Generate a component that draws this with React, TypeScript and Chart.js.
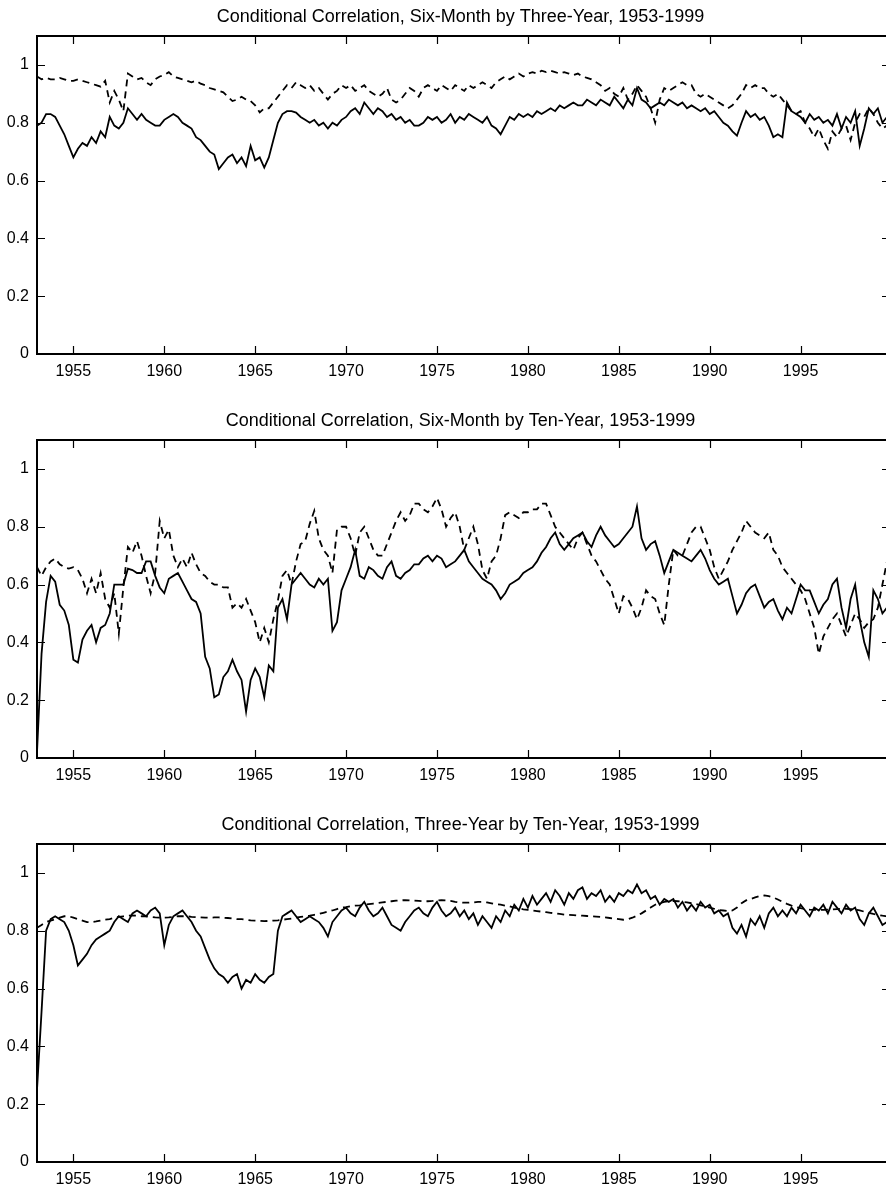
import React, { useEffect, useRef } from "react";
import { Chart, registerables } from "chart.js";

Chart.register(...registerables);

const START_YEAR = 1953;
const END_YEAR = 1999 + 11 / 12;
const X_TICKS = [1955, 1960, 1965, 1970, 1975, 1980, 1985, 1990, 1995];
const Y_TICKS = [0, 0.2, 0.4, 0.6, 0.8, 1];
const Y_MAX = 1.1;

const TITLES = [
  "Conditional Correlation, Six-Month by Three-Year, 1953-1999",
  "Conditional Correlation, Six-Month by Ten-Year, 1953-1999",
  "Conditional Correlation, Three-Year by Ten-Year, 1953-1999",
];

// Quarterly readings, 1953Q1 .. 1999Q4 (one row per year)
const sixMonthThreeYearSolid = [
  0.79, 0.8, 0.83, 0.83,
  0.82, 0.79, 0.76, 0.72,
  0.68, 0.71, 0.73, 0.72,
  0.75, 0.73, 0.77, 0.75,
  0.82, 0.79, 0.78, 0.8,
  0.85, 0.83, 0.81, 0.83,
  0.81, 0.8, 0.79, 0.79,
  0.81, 0.82, 0.83, 0.82,
  0.8, 0.79, 0.78, 0.75,
  0.74, 0.72, 0.7, 0.69,
  0.64, 0.66, 0.68, 0.69,
  0.66, 0.68, 0.65, 0.72,
  0.67, 0.68, 0.645, 0.68,
  0.74, 0.8, 0.83, 0.84,
  0.84, 0.835, 0.82, 0.81,
  0.8, 0.81, 0.79, 0.8,
  0.78, 0.8, 0.79, 0.81,
  0.82, 0.84, 0.85, 0.83,
  0.87, 0.85, 0.83, 0.85,
  0.84, 0.82, 0.83, 0.81,
  0.82, 0.8, 0.81, 0.79,
  0.79, 0.8, 0.82, 0.81,
  0.82, 0.8, 0.81, 0.83,
  0.8, 0.82, 0.81, 0.83,
  0.82, 0.81, 0.8, 0.82,
  0.79, 0.78, 0.76, 0.79,
  0.82, 0.81, 0.83, 0.82,
  0.83, 0.82, 0.84, 0.83,
  0.84, 0.85, 0.84, 0.86,
  0.85, 0.86, 0.87, 0.86,
  0.86, 0.88, 0.87, 0.86,
  0.88, 0.87, 0.86, 0.89,
  0.87, 0.85, 0.88, 0.86,
  0.92, 0.88, 0.87, 0.85,
  0.86, 0.87, 0.86, 0.88,
  0.87, 0.86, 0.87, 0.85,
  0.86, 0.85, 0.84, 0.85,
  0.83, 0.84, 0.82, 0.8,
  0.79, 0.77, 0.755, 0.8,
  0.84, 0.82, 0.83, 0.81,
  0.82, 0.79, 0.75, 0.76,
  0.75, 0.87, 0.84, 0.83,
  0.82, 0.8, 0.83, 0.81,
  0.82, 0.8, 0.81, 0.79,
  0.83, 0.78, 0.82, 0.8,
  0.84, 0.72, 0.78, 0.85,
  0.83, 0.85, 0.8, 0.82,
];

const sixMonthThreeYearDashed = [
  0.96, 0.95, 0.955, 0.95,
  0.95, 0.955, 0.95, 0.945,
  0.945, 0.95, 0.945, 0.94,
  0.935, 0.93, 0.925, 0.945,
  0.87, 0.91, 0.88, 0.84,
  0.97, 0.96, 0.95, 0.955,
  0.94, 0.93, 0.95, 0.96,
  0.965, 0.975, 0.96, 0.955,
  0.95, 0.945, 0.94, 0.945,
  0.935, 0.93, 0.92, 0.915,
  0.91, 0.905, 0.89, 0.875,
  0.88, 0.89, 0.88, 0.875,
  0.86, 0.836, 0.85, 0.85,
  0.87, 0.89, 0.91, 0.93,
  0.92, 0.94, 0.93, 0.92,
  0.93, 0.91, 0.92, 0.9,
  0.88, 0.9, 0.91, 0.93,
  0.92, 0.93, 0.91, 0.92,
  0.93, 0.91, 0.9, 0.89,
  0.9, 0.92, 0.88, 0.87,
  0.88, 0.9, 0.92, 0.91,
  0.89, 0.92, 0.93, 0.92,
  0.91, 0.93, 0.92, 0.91,
  0.93, 0.92, 0.91, 0.93,
  0.92, 0.93, 0.94, 0.93,
  0.92, 0.94, 0.95, 0.96,
  0.95, 0.96, 0.97, 0.96,
  0.97, 0.975, 0.97, 0.98,
  0.975, 0.98, 0.975, 0.97,
  0.975, 0.97, 0.965, 0.97,
  0.96, 0.955, 0.95, 0.94,
  0.93, 0.91, 0.92, 0.9,
  0.89, 0.92, 0.88, 0.9,
  0.93, 0.91, 0.89, 0.85,
  0.8, 0.88, 0.92, 0.91,
  0.92, 0.93, 0.94, 0.93,
  0.93, 0.9, 0.89, 0.9,
  0.89, 0.88, 0.87, 0.86,
  0.85, 0.86, 0.88, 0.9,
  0.93, 0.92, 0.93, 0.92,
  0.92, 0.9, 0.89, 0.9,
  0.88, 0.86, 0.84, 0.83,
  0.84, 0.8, 0.78, 0.75,
  0.78, 0.74, 0.71, 0.77,
  0.75, 0.78, 0.79, 0.74,
  0.8, 0.83, 0.82, 0.85,
  0.83, 0.8, 0.78, 0.79,
];

const sixMonthTenYearSolid = [
  0.02, 0.36, 0.54, 0.63,
  0.61, 0.53, 0.51, 0.46,
  0.34, 0.33, 0.41, 0.44,
  0.46, 0.4, 0.45, 0.46,
  0.5, 0.6, 0.6, 0.6,
  0.655, 0.65, 0.64, 0.64,
  0.68, 0.68, 0.63, 0.59,
  0.57, 0.62, 0.63, 0.64,
  0.61, 0.58, 0.55, 0.54,
  0.5, 0.35, 0.31, 0.21,
  0.22, 0.28, 0.3, 0.34,
  0.3, 0.27, 0.16, 0.27,
  0.31, 0.28, 0.21, 0.32,
  0.3, 0.52, 0.55, 0.48,
  0.6, 0.62, 0.64, 0.62,
  0.6, 0.59, 0.62, 0.6,
  0.62, 0.44, 0.47, 0.58,
  0.62, 0.66, 0.72, 0.63,
  0.62, 0.66, 0.65, 0.63,
  0.62, 0.66, 0.68, 0.63,
  0.62, 0.64, 0.65, 0.67,
  0.67, 0.69, 0.7, 0.68,
  0.7, 0.69, 0.66, 0.67,
  0.68, 0.7, 0.72, 0.68,
  0.66, 0.64, 0.62, 0.61,
  0.6, 0.58, 0.55, 0.57,
  0.6, 0.61, 0.62, 0.64,
  0.65, 0.66, 0.68, 0.71,
  0.73, 0.76, 0.78, 0.74,
  0.72, 0.74, 0.76, 0.77,
  0.78, 0.75, 0.73, 0.77,
  0.8, 0.77, 0.75, 0.73,
  0.74, 0.76, 0.78, 0.8,
  0.87, 0.76, 0.72, 0.74,
  0.75, 0.7, 0.64, 0.68,
  0.72, 0.71, 0.7, 0.69,
  0.68, 0.7, 0.72, 0.69,
  0.65, 0.62, 0.6, 0.61,
  0.62, 0.56, 0.5, 0.53,
  0.57, 0.59, 0.6, 0.56,
  0.52, 0.54, 0.55, 0.51,
  0.48, 0.52, 0.5, 0.55,
  0.6, 0.58, 0.58, 0.54,
  0.5, 0.53, 0.55, 0.6,
  0.62, 0.52, 0.45, 0.55,
  0.6, 0.48, 0.4, 0.35,
  0.58, 0.55, 0.5, 0.52,
];

const sixMonthTenYearDashed = [
  0.66, 0.63, 0.66, 0.68,
  0.69, 0.67, 0.66, 0.655,
  0.66, 0.65, 0.62, 0.57,
  0.62, 0.57, 0.64, 0.55,
  0.52, 0.57, 0.43, 0.59,
  0.73, 0.71, 0.75, 0.7,
  0.63, 0.57, 0.64, 0.82,
  0.76, 0.79, 0.7, 0.66,
  0.69, 0.66, 0.71, 0.67,
  0.64, 0.63, 0.61, 0.6,
  0.6, 0.59, 0.59, 0.52,
  0.535, 0.52, 0.55, 0.51,
  0.47, 0.4, 0.45, 0.4,
  0.48, 0.545, 0.63, 0.65,
  0.6, 0.68, 0.74, 0.75,
  0.81, 0.855, 0.76, 0.72,
  0.7, 0.64, 0.79, 0.8,
  0.8, 0.76, 0.7, 0.78,
  0.8, 0.76, 0.72, 0.7,
  0.7, 0.74, 0.78, 0.82,
  0.85, 0.82, 0.84, 0.88,
  0.88, 0.86, 0.85, 0.87,
  0.9, 0.86, 0.8, 0.83,
  0.85, 0.8, 0.72, 0.76,
  0.8, 0.74, 0.65, 0.62,
  0.68, 0.7, 0.76, 0.84,
  0.85, 0.84, 0.83, 0.85,
  0.85, 0.86, 0.86, 0.88,
  0.88, 0.84, 0.8, 0.78,
  0.76, 0.74, 0.72, 0.76,
  0.78, 0.74, 0.7, 0.68,
  0.65, 0.62, 0.6, 0.55,
  0.5, 0.56, 0.55, 0.52,
  0.48, 0.52, 0.58, 0.56,
  0.55, 0.5, 0.46, 0.6,
  0.72, 0.7, 0.7, 0.74,
  0.78, 0.8, 0.8, 0.76,
  0.72, 0.66, 0.62, 0.65,
  0.68, 0.72, 0.75, 0.78,
  0.82, 0.8, 0.78, 0.77,
  0.76, 0.78, 0.72, 0.7,
  0.66, 0.64, 0.62, 0.6,
  0.58, 0.55, 0.5, 0.45,
  0.36, 0.42, 0.45, 0.48,
  0.5, 0.46, 0.42, 0.46,
  0.5, 0.48, 0.45, 0.47,
  0.48, 0.52, 0.6, 0.68,
];

const threeYearTenYearSolid = [
  0.25, 0.52, 0.8, 0.84,
  0.85, 0.84, 0.83, 0.8,
  0.75, 0.68, 0.7, 0.72,
  0.75, 0.77, 0.78, 0.79,
  0.8, 0.83, 0.85, 0.84,
  0.83, 0.86, 0.87, 0.86,
  0.85, 0.87, 0.88, 0.86,
  0.75, 0.82, 0.85, 0.86,
  0.87, 0.85, 0.83, 0.8,
  0.78, 0.74, 0.7, 0.67,
  0.65, 0.64, 0.62, 0.64,
  0.65, 0.6, 0.63, 0.62,
  0.65, 0.63, 0.62, 0.64,
  0.65, 0.8, 0.85, 0.86,
  0.87, 0.85, 0.83, 0.84,
  0.85, 0.84, 0.83, 0.81,
  0.78, 0.83, 0.85, 0.87,
  0.88, 0.86, 0.85, 0.88,
  0.9, 0.87, 0.85, 0.86,
  0.88, 0.85, 0.82, 0.81,
  0.8, 0.83, 0.85, 0.87,
  0.88, 0.86, 0.85, 0.88,
  0.9, 0.87, 0.85, 0.86,
  0.88, 0.85, 0.87, 0.84,
  0.86, 0.82, 0.85, 0.83,
  0.81, 0.85, 0.83, 0.87,
  0.85, 0.89, 0.87, 0.91,
  0.88, 0.92, 0.89, 0.91,
  0.93, 0.9, 0.94, 0.92,
  0.89, 0.93, 0.91, 0.94,
  0.95, 0.91, 0.93, 0.92,
  0.94, 0.9, 0.92, 0.9,
  0.93, 0.92, 0.94, 0.93,
  0.96, 0.93, 0.94, 0.91,
  0.92, 0.89, 0.91, 0.9,
  0.91, 0.88, 0.9, 0.87,
  0.89, 0.87, 0.9, 0.88,
  0.89, 0.86, 0.87, 0.85,
  0.86, 0.81, 0.79, 0.82,
  0.78, 0.84, 0.82, 0.85,
  0.81, 0.86, 0.88, 0.85,
  0.87, 0.85, 0.88, 0.86,
  0.89, 0.87, 0.85, 0.88,
  0.87, 0.89, 0.86, 0.9,
  0.88, 0.86, 0.89, 0.87,
  0.88, 0.84, 0.82, 0.86,
  0.88, 0.85, 0.82, 0.83,
];

const threeYearTenYearDashed = [
  0.81, 0.82, 0.83, 0.835,
  0.84, 0.845, 0.85, 0.85,
  0.845, 0.84, 0.835, 0.83,
  0.83, 0.832, 0.835, 0.838,
  0.84, 0.845, 0.848, 0.85,
  0.852, 0.853, 0.852, 0.85,
  0.85, 0.848, 0.846, 0.845,
  0.845, 0.846, 0.848, 0.85,
  0.85, 0.85, 0.848, 0.847,
  0.846, 0.845, 0.845, 0.846,
  0.846, 0.845, 0.844, 0.842,
  0.84, 0.84, 0.838, 0.836,
  0.835, 0.834, 0.833, 0.834,
  0.835, 0.836, 0.838, 0.84,
  0.842, 0.845, 0.848, 0.85,
  0.852, 0.855, 0.858, 0.862,
  0.866, 0.87, 0.875, 0.88,
  0.882, 0.885, 0.887, 0.888,
  0.89, 0.892, 0.894, 0.896,
  0.898, 0.9, 0.902, 0.904,
  0.905, 0.906, 0.905, 0.904,
  0.903, 0.902, 0.902, 0.903,
  0.905, 0.906, 0.905, 0.903,
  0.9, 0.898, 0.897, 0.897,
  0.898, 0.9, 0.9, 0.898,
  0.895, 0.892, 0.89, 0.887,
  0.884, 0.88, 0.877, 0.874,
  0.872, 0.87, 0.868, 0.866,
  0.864, 0.862, 0.86, 0.858,
  0.856, 0.855, 0.854, 0.853,
  0.852, 0.851, 0.85, 0.849,
  0.848, 0.846, 0.844, 0.842,
  0.84, 0.838, 0.84, 0.845,
  0.852, 0.86, 0.87, 0.88,
  0.89, 0.895, 0.9, 0.902,
  0.903, 0.902, 0.9, 0.898,
  0.895, 0.892, 0.888, 0.884,
  0.88, 0.876, 0.872, 0.87,
  0.868, 0.87, 0.88, 0.895,
  0.905, 0.91, 0.915, 0.92,
  0.922, 0.92, 0.915, 0.908,
  0.9, 0.893, 0.887, 0.882,
  0.878, 0.875, 0.873, 0.872,
  0.872, 0.872, 0.873, 0.874,
  0.875, 0.876, 0.876, 0.875,
  0.873, 0.87, 0.866, 0.862,
  0.858, 0.855, 0.852, 0.85,
];

const FONT = '"Liberation Sans", Arial, Helvetica, sans-serif';
const CANVAS_W = 890;
const PLOT_TOP = 36;
const PLOT_BOTTOM = 354;
const PLOT_LEFT = 37;

type PanelProps = { solid: number[]; dashed: number[]; title: string; height: number };

function Panel({ solid, dashed, title, height }: PanelProps) {
  const ref = useRef<HTMLCanvasElement>(null);

  useEffect(() => {
    if (!ref.current) return;
    const toPoints = (arr: number[]) => arr.map((v, i) => ({ x: START_YEAR + i / 4, y: v }));

    const framePlugin = {
      id: "matlabFrame",
      afterDraw(chart: any) {
        const { ctx, chartArea: a, scales } = chart;
        const xs = scales.x;
        const ys = scales.y;
        ctx.save();
        ctx.strokeStyle = "#000";
        ctx.lineWidth = 2;
        ctx.beginPath();
        ctx.moveTo(a.left, a.top);
        ctx.lineTo(a.right, a.top);
        ctx.moveTo(a.left, a.bottom);
        ctx.lineTo(a.right, a.bottom);
        ctx.moveTo(a.left, a.top - 1);
        ctx.lineTo(a.left, a.bottom + 1);
        ctx.moveTo(a.right, a.top);
        ctx.lineTo(a.right, a.bottom);
        ctx.stroke();
        ctx.lineWidth = 1.2;
        ctx.beginPath();
        xs.ticks.forEach((t: any) => {
          const px = Math.round(xs.getPixelForValue(t.value)) + 0.5;
          ctx.moveTo(px, a.bottom);
          ctx.lineTo(px, a.bottom - 8);
          ctx.moveTo(px, a.top);
          ctx.lineTo(px, a.top + 8);
        });
        ys.ticks.forEach((t: any) => {
          const py = Math.round(ys.getPixelForValue(t.value)) + 0.5;
          ctx.moveTo(a.left, py);
          ctx.lineTo(a.left + 8, py);
          ctx.moveTo(a.right, py);
          ctx.lineTo(a.right - 8, py);
        });
        ctx.stroke();
        ctx.fillStyle = "#000";
        ctx.font = `18px ${FONT}`;
        ctx.textAlign = "center";
        ctx.textBaseline = "middle";
        ctx.fillText(title, (a.left + a.right) / 2 - 3, a.top - 19);
        ctx.restore();
      },
    };

    const chart = new Chart(ref.current, {
      type: "line",
      data: {
        datasets: [
          {
            data: toPoints(solid),
            borderColor: "#000",
            borderWidth: 1.8,
            pointRadius: 0,
            tension: 0,
            fill: false,
          },
          {
            data: toPoints(dashed),
            borderColor: "#000",
            borderWidth: 1.8,
            borderDash: [7, 5],
            pointRadius: 0,
            tension: 0,
            fill: false,
          },
        ],
      },
      options: {
        responsive: false,
        animation: false,
        devicePixelRatio: 1,
        layout: { padding: { top: PLOT_TOP, left: 0, right: 0, bottom: 0 } },
        plugins: {
          legend: { display: false },
          tooltip: { enabled: false },
          title: { display: false },
        },
        scales: {
          x: {
            type: "linear",
            min: START_YEAR,
            max: END_YEAR,
            grid: { display: false, drawTicks: false },
            border: { display: false },
            afterBuildTicks: (scale: any) => {
              scale.ticks = X_TICKS.map((v) => ({ value: v }));
            },
            afterFit: (scale: any) => {
              scale.height = height - PLOT_BOTTOM;
            },
            ticks: {
              color: "#000",
              font: { family: FONT, size: 16 },
              padding: 8,
              maxRotation: 0,
              autoSkip: false,
              callback: (v: any) => String(v),
            },
          },
          y: {
            type: "linear",
            min: 0,
            max: Y_MAX,
            grid: { display: false, drawTicks: false },
            border: { display: false },
            afterBuildTicks: (scale: any) => {
              scale.ticks = Y_TICKS.map((v) => ({ value: v }));
            },
            afterFit: (scale: any) => {
              scale.width = PLOT_LEFT;
            },
            ticks: {
              color: "#000",
              font: { family: FONT, size: 16 },
              padding: 8,
              autoSkip: false,
              callback: (v: any) => String(v),
            },
          },
        },
      },
      plugins: [framePlugin],
    } as any);

    return () => chart.destroy();
  }, [solid, dashed, title, height]);

  return (
    <canvas
      ref={ref}
      width={CANVAS_W}
      height={height}
      style={{ display: "block", width: CANVAS_W, height }}
    />
  );
}

export default function App() {
  const panels = [
    { solid: sixMonthThreeYearSolid, dashed: sixMonthThreeYearDashed, title: TITLES[0], top: 0, height: 404 },
    { solid: sixMonthTenYearSolid, dashed: sixMonthTenYearDashed, title: TITLES[1], top: 404, height: 404 },
    { solid: threeYearTenYearSolid, dashed: threeYearTenYearDashed, title: TITLES[2], top: 808, height: 381 },
  ];
  return (
    <div
      style={{
        position: "absolute",
        left: 0,
        top: 0,
        width: 886,
        height: 1189,
        overflow: "hidden",
        background: "#fff",
      }}
    >
      {panels.map((p, i) => (
        <div key={i} style={{ position: "absolute", left: 0, top: p.top, width: CANVAS_W, height: p.height }}>
          <Panel solid={p.solid} dashed={p.dashed} title={p.title} height={p.height} />
        </div>
      ))}
    </div>
  );
}
